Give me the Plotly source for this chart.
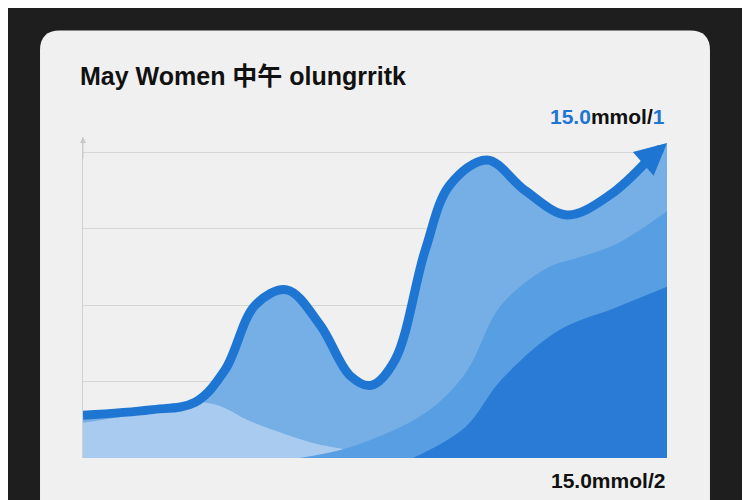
import plotly.graph_objects as go

# x runs 0..100 across the plot, y in mmol units
line_x = [0, 11.5, 19.2, 24.3, 29.5, 34.9, 40.6, 45.7, 49.3, 53.4, 58.6, 62.8, 69.2, 75.7, 82.9, 90.2, 97, 100]
line_y = [0.56, 0.63, 0.73, 1.15, 2.0, 2.2, 1.74, 1.08, 0.95, 1.28, 2.72, 3.57, 3.9, 3.5, 3.18, 3.44, 3.92, 4.12]

light_x = [0, 10, 21.4, 29.3, 39.2, 45.7, 51, 100]
light_y = [0.46, 0.58, 0.72, 0.46, 0.2, 0.1, 0.0, 0.0]

mid_x = [37, 45.7, 58.6, 65.4, 71.6, 79.8, 83.9, 91.3, 100]
mid_y = [0.0, 0.14, 0.59, 1.1, 2.0, 2.5, 2.6, 2.8, 3.23]

dark_x = [56.5, 65.4, 71.6, 81.5, 91.3, 100]
dark_y = [0.0, 0.4, 1.02, 1.67, 1.97, 2.24]

fig = go.Figure()
fig.add_trace(go.Scatter(x=line_x, y=line_y, fill="tozeroy", fillcolor="#76aee6",
                         line=dict(width=0, shape="spline"), mode="lines"))
fig.add_trace(go.Scatter(x=light_x, y=light_y, fill="tozeroy", fillcolor="#a8cbef",
                         line=dict(width=0, shape="spline"), mode="lines"))
fig.add_trace(go.Scatter(x=mid_x, y=mid_y, fill="tozeroy", fillcolor="#579ee2",
                         line=dict(width=0, shape="spline"), mode="lines"))
fig.add_trace(go.Scatter(x=dark_x, y=dark_y, fill="tozeroy", fillcolor="#2a7bd6",
                         line=dict(width=0, shape="spline"), mode="lines"))
fig.add_trace(go.Scatter(x=line_x[:-1], y=line_y[:-1], mode="lines",
                         line=dict(color="#1f76d2", width=9, shape="spline")))

# rounded card behind the chart
x0, x1, y0, y1 = -0.0736, 1.0736, -0.2, 1.332
rx, ry = 0.034, 0.062
card = (f"M {x0+rx},{y1} L {x1-rx},{y1} Q {x1},{y1} {x1},{y1-ry} L {x1},{y0} "
        f"L {x0},{y0} L {x0},{y1-ry} Q {x0},{y1} {x0+rx},{y1} Z")

fig.update_layout(
    width=750, height=500,
    margin=dict(l=75, r=91, t=129, b=50),
    paper_bgcolor="#1e1e1e", plot_bgcolor="#f0f0f0",
    showlegend=False,
    font=dict(family="Liberation Sans, Arial, Noto Sans CJK SC, sans-serif", color="#111"),
    shapes=[dict(type="path", path=card, xref="paper", yref="paper",
                 fillcolor="#f0f0f0", line=dict(width=0), layer="below")],
    xaxis=dict(range=[0, 100], showgrid=False, zeroline=False, showticklabels=False,
               showline=False),
    yaxis=dict(range=[0, 4.2], tickvals=[1, 2, 3, 4], showticklabels=False,
               gridcolor="#d6d6d6", gridwidth=1, zeroline=False,
               showline=True, linecolor="#d0d0d0", linewidth=1),
    annotations=[
        dict(text="<b>May Women 中午 olungrritk</b>", xref="paper", yref="paper",
             x=-0.008, y=1.19, xanchor="left", yanchor="middle", showarrow=False,
             font=dict(size=25, color="#111")),
        dict(text="<b><span style='color:#1f76d2'>15.0</span>mmol/<span style='color:#1f76d2'>1</span></b>",
             xref="paper", yref="paper", x=1.0, y=1.065, xanchor="right", yanchor="middle",
             showarrow=False, font=dict(size=21, color="#111")),
        dict(text="<b>15.0mmol/2</b>", xref="paper", yref="paper", x=1.0, y=-0.07,
             xanchor="right", yanchor="middle", showarrow=False,
             font=dict(size=21, color="#111")),
        # arrow head at the end of the line
        dict(x=line_x[-1], y=line_y[-1], ax=line_x[-2], ay=line_y[-2],
             xref="x", yref="y", axref="x", ayref="y",
             text="", showarrow=True, arrowhead=2, arrowsize=0.7, arrowwidth=9,
             arrowcolor="#1f76d2"),
        # small arrow on top of the y axis
        dict(x=0, y=4.2, ax=0, ay=3.9, xref="x", yref="y", axref="x", ayref="y",
             text="", showarrow=True, arrowhead=2, arrowsize=1.2, arrowwidth=1,
             arrowcolor="#c8c8c8"),
    ],
)

fig.write_html("out.html")
